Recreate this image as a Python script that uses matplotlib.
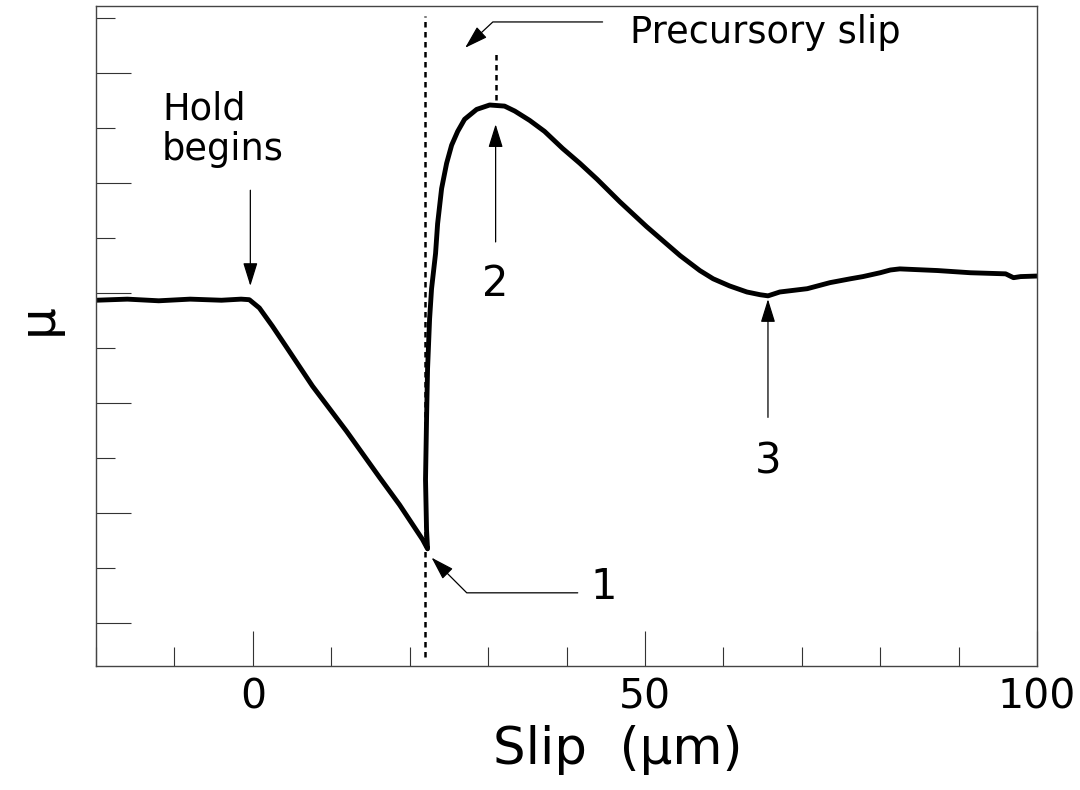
import matplotlib
matplotlib.use("Agg")
import matplotlib.pyplot as plt
from matplotlib.ticker import MultipleLocator, FixedLocator

plt.rcParams['font.family'] = ['DejaVu Sans']

# friction trace: slip (um) and mu
slip = [-20, -16, -12, -8, -4, -1.5, -0.45, 0.83, 2.49, 4.28, 7.60, 11.94, 16.15,
        18.71, 21.64, 22.28, 22.15, 22.02, 22.15, 22.28, 22.54, 22.79, 23.30,
        23.56, 24.07, 24.71, 25.35, 26.12, 27.0, 28.54, 30.2, 32.1, 33.4, 35.3,
        37.2, 39.5, 41.7, 43.9, 46.8, 50.2, 54.5, 57.0, 58.7, 60.8, 63.0, 64.7,
        65.7, 67.2, 70.7, 73.6, 76.2, 77.8, 80.0, 81.3, 82.5, 87.3, 91.5, 96.0,
        97.0, 97.9, 100]
mu = [0.6587, 0.6589, 0.6586, 0.6589, 0.6587, 0.6589, 0.6588, 0.6573, 0.6540,
      0.6502, 0.6431, 0.6349, 0.6265, 0.6215, 0.6152, 0.6135, 0.6170, 0.6261,
      0.6370, 0.6462, 0.6553, 0.6608, 0.6672, 0.6726, 0.6790, 0.6836, 0.6869,
      0.6894, 0.6916, 0.6934, 0.6942, 0.6940, 0.6931, 0.6914, 0.6894, 0.6863,
      0.6836, 0.6807, 0.6766, 0.6721, 0.6668, 0.6641, 0.6626, 0.6613, 0.6602,
      0.6597, 0.6595, 0.6602, 0.6608, 0.6619, 0.6626, 0.6630, 0.6637, 0.6642,
      0.6644, 0.6641, 0.6637, 0.6635, 0.6628, 0.6630, 0.6631]

x_ticks = [0, 50, 100]
y_major = [0.60, 0.62, 0.64, 0.66, 0.68, 0.70]
y_minor = [0.61, 0.63, 0.65, 0.67, 0.69, 0.71]
slip_onset = 22.0     # dashed line at start of rapid slip
peak_slip = 30.96     # dashed line above peak

fig = plt.figure(figsize=(10.8, 7.9), dpi=100)
ax = fig.add_axes([0.0889, 0.157, 0.8713, 0.8354])

ax.plot(slip, mu, color='black', lw=3.5, solid_joinstyle='round')
ax.plot([slip_onset, slip_onset], [0.5938, 0.7104], color='black', lw=1.8,
        linestyle=(0, (2.2, 1.8)))
ax.plot([peak_slip, peak_slip], [0.6951, 0.7040], color='black', lw=1.8,
        linestyle=(0, (2.2, 1.8)))

ax.set_xlim(-20, 100)
ax.set_ylim(0.5922, 0.7122)
ax.xaxis.set_major_locator(FixedLocator(x_ticks))
ax.xaxis.set_minor_locator(MultipleLocator(10))
ax.yaxis.set_major_locator(FixedLocator(y_major))
ax.yaxis.set_minor_locator(FixedLocator(y_minor))
ax.set_yticklabels([])
ax.tick_params(which='both', direction='in', top=False, right=False,
               width=0.8, color='#333333')
ax.tick_params(which='major', length=25.5)
ax.tick_params(which='minor', length=13.5)
ax.tick_params(axis='x', labelsize=29.5, pad=8)
for s in ax.spines.values():
    s.set_linewidth(1.0)
    s.set_color('#444444')

ax.set_xlabel('Slip  (\u03bcm)', fontsize=37, labelpad=4)
ax.xaxis.set_label_coords(0.554, -0.09)
ax.set_ylabel('\u03bc', fontsize=36)
ax.yaxis.set_label_coords(-0.036, 0.525)

arrow = dict(arrowstyle='-|>,head_length=0.9,head_width=0.28', color='black',
             lw=0.9, shrinkA=0, shrinkB=0, mutation_scale=16)

ax.text(-11.6, 0.6969, 'Hold\nbegins', fontsize=26.5, ha='left', va='top',
        linespacing=1.15)
ax.annotate('', xy=(-0.32, 0.6613), xytext=(-0.32, 0.6787), arrowprops=arrow)

ax.text(48.07, 0.7055, 'Precursory slip', fontsize=26.5, ha='left', va='baseline')
ax.annotate('', xy=(27.07, 0.7046), xytext=(44.6, 0.7093),
            arrowprops=dict(arrow, connectionstyle='angle,angleA=0,angleB=43,rad=0'))

ax.text(44.8, 0.6043, '1', fontsize=30, ha='center', va='baseline')
ax.annotate('', xy=(22.79, 0.6119), xytext=(41.43, 0.6055),
            arrowprops=dict(arrow, connectionstyle='angle,angleA=0,angleB=-45,rad=0'))

ax.text(30.96, 0.6595, '2', fontsize=30, ha='center', va='baseline')
ax.annotate('', xy=(30.96, 0.6907), xytext=(30.96, 0.6693), arrowprops=arrow)

ax.text(65.69, 0.6272, '3', fontsize=30, ha='center', va='baseline')
ax.annotate('', xy=(65.69, 0.6589), xytext=(65.69, 0.6374), arrowprops=arrow)

fig.savefig('out.png', dpi=100)
